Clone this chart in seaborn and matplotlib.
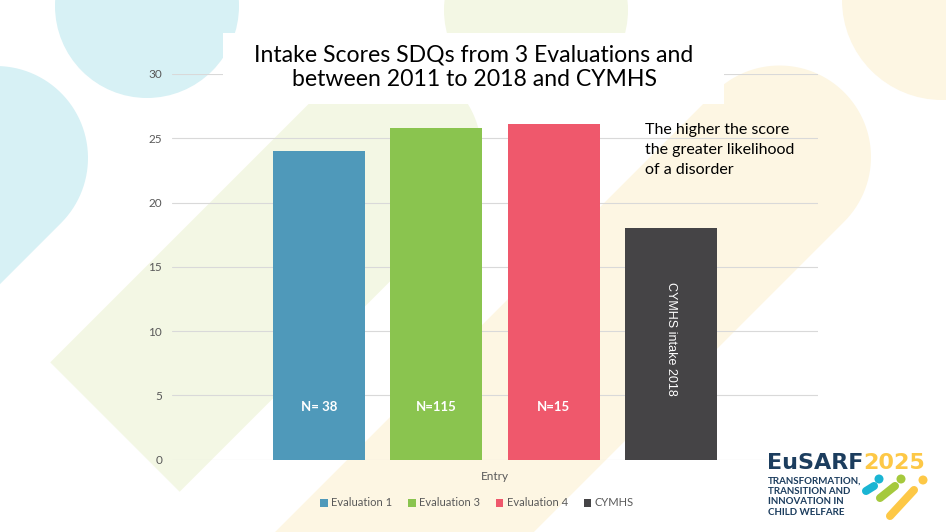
import matplotlib
matplotlib.use("Agg")
import matplotlib.pyplot as plt
import matplotlib.transforms as mtransforms
from matplotlib.patches import Circle, Polygon, Rectangle
import numpy as np
import pandas as pd
import seaborn as sns

# ---- data ----
category = "Entry"
series = ["Evaluation 1", "Evaluation 3", "Evaluation 4", "CYMHS"]
scores = [24.0, 25.8, 26.1, 18.0]
bar_notes = ["N= 38", "N=115", "N=15", "CYMHS intake 2018"]
y_ticks = [0, 5, 10, 15, 20, 25, 30]

palette = ["#4F99BA", "#8AC44F", "#EF586C", "#454446"]

title = "Intake Scores SDQs from 3 Evaluations and\nbetween 2011 to 2018 and CYMHS"
note = "The higher the score\nthe greater likelihood\nof a disorder"
logo_lines = ["TRANSFORMATION,", "TRANSITION AND", "INNOVATION IN", "CHILD WELFARE"]

df = pd.DataFrame({"category": category, "series": series, "score": scores})

sns.set_theme(style="white")
plt.rcParams["font.family"] = ["Lato", "DejaVu Sans"]

W, H = 946, 532
fig = plt.figure(figsize=(W / 100, H / 100), dpi=100)
fig.patch.set_facecolor("white")

# transform for slide pixel coords (origin top-left, y down)
px = mtransforms.Affine2D().scale(1 / 100, -1 / 100).translate(0, H / 100) + fig.dpi_scale_trans


def band(cx, cy, r, length, color):
    """Diagonal band with a rounded upper-right end, running down-left."""
    th = np.radians(np.linspace(45, -135, 60))
    pts = [(cx + r * np.cos(t), cy + r * np.sin(t)) for t in th]
    d = np.array([-1.0, 1.0]) / np.sqrt(2)
    nrm = np.array([1.0, 1.0]) / np.sqrt(2)
    c = np.array([cx, cy])
    pts.append(tuple(c + length * d - r * nrm))
    pts.append(tuple(c + length * d + r * nrm))
    return Polygon(pts, closed=True, transform=px, facecolor=color,
                   edgecolor="none", zorder=-2)


# background decoration of the slide
light_blue = "#D7F1F5"
light_green = "#F3F7E4"
light_cream = "#FDF6E3"
for art in [
    Circle((147, 6), 92, transform=px, facecolor=light_blue, edgecolor="none", zorder=-2),
    band(-4, 158, 92, 400, light_blue),
    Circle((536, 10), 92, transform=px, facecolor=light_green, edgecolor="none", zorder=-2),
    band(390, 152, 91.5, 389, light_green),
    band(779.5, 157, 91.5, 700, light_cream),
    Circle((942, 0), 100, transform=px, facecolor=light_cream, edgecolor="none", zorder=-2),
]:
    fig.patches.append(art)

# ---- chart ----
ax = fig.add_axes([172 / W, 1 - 459.5 / H, 646 / W, 385.5 / H])
ax.patch.set_alpha(0)

sns.barplot(
    data=df,
    x="category",
    y="score",
    hue="series",
    hue_order=series,
    palette=palette,
    saturation=1,
    width=0.726,
    gap=0.216,
    linewidth=0,
    ax=ax,
)

ax.set_xlim(-0.5, 0.5)
ax.set_ylim(0, 30)
ax.set_yticks(y_ticks)
ax.set_xlabel("")
ax.set_ylabel("")
ax.grid(axis="y", color="#D9D9D9", linewidth=0.8)
ax.set_axisbelow(True)
sns.despine(ax=ax, left=True, bottom=True)
ax.tick_params(axis="both", length=0, labelsize=8.5, labelcolor="#595959")
ax.tick_params(axis="y", pad=7)
ax.tick_params(axis="x", pad=8)

# labels inside the bars
for cont, txt in zip(ax.containers, bar_notes):
    bar = cont.patches[0]
    xc = bar.get_x() + bar.get_width() / 2
    if txt.startswith("N"):
        ax.text(xc, 4.1, txt, ha="center", va="center", color="white",
                fontsize=9.5, fontweight="bold")
    else:
        ax.text(xc, bar.get_height() / 2 + 0.35, txt, ha="center", va="center",
                color="white", fontsize=9, rotation=270,
                family=["Liberation Sans", "DejaVu Sans"])

sns.move_legend(
    ax, "center",
    bbox_to_anchor=((477 - 172) / 646, (459.5 - 503) / 385.5),
    ncol=4, frameon=False, title=None, fontsize=8,
    labelcolor="#595959", handlelength=0.7, handleheight=0.7,
    handletextpad=0.3, columnspacing=1.4,
)

# white title box on top of the gridline
fig.patches.append(Rectangle((223, 33), 501, 71, transform=px, facecolor="white",
                             edgecolor="none", zorder=2))
fig.text(474, 67, title, transform=px, ha="center", va="center",
         multialignment="center", fontsize=16.6, color="black",
         linespacing=1.2, zorder=3)

fig.text(645, 123, note, transform=px, ha="left", va="top", fontsize=11.5,
         color="black", linespacing=1.55, zorder=3)

# ---- EuSARF logo ----
navy = "#1C3D5E"
yellow = "#FDC846"
fig.text(767, 469, "EuSARF", transform=px, ha="left", va="baseline",
         fontsize=16, fontweight="bold", color=navy, zorder=3,
         family="DejaVu Sans")
fig.text(863, 469, "2025", transform=px, ha="left", va="baseline",
         fontsize=16, fontweight="bold", color=yellow, zorder=3,
         family="DejaVu Sans")
for i, line in enumerate(logo_lines):
    fig.text(768, 484 + i * 10.2, line, transform=px, ha="left", va="baseline",
             fontsize=7, fontweight="bold", color=navy, zorder=3)

icon = [
    ((879, 479), (866, 491), (874, 486), "#1AB5D3"),
    ((901, 479), (880, 498), (895, 486), "#A5C93D"),
    ((923, 480), (890, 516), (914, 490), yellow),
]
for dot, p0, p1, col in icon:
    fig.patches.append(Circle(dot, 4.5, transform=px, facecolor=col,
                              edgecolor="none", zorder=3))
    fig.lines.append(matplotlib.lines.Line2D([p0[0], p1[0]], [p0[1], p1[1]],
                                             transform=px, color=col, lw=5.8,
                                             solid_capstyle="round", zorder=3))

fig.savefig("out.png", dpi=100)
